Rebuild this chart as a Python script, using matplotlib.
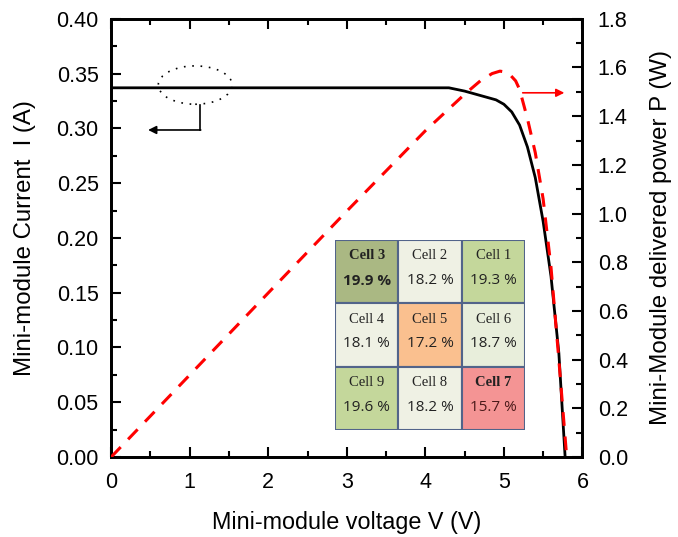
import matplotlib
matplotlib.use("Agg")
from matplotlib import pyplot as plt
from matplotlib.patches import Ellipse, Rectangle
from matplotlib.ticker import MultipleLocator, FormatStrFormatter

# I-V curve of the mini-module
voltage_iv = [0.0, 0.5, 1.0, 1.5, 2.0, 2.5, 3.0, 3.5, 4.0, 4.3, 4.5, 4.7, 4.9, 5.0,
              5.1, 5.2, 5.3, 5.4, 5.5, 5.6, 5.7, 5.78]
current = [0.337, 0.337, 0.337, 0.337, 0.337, 0.337, 0.337, 0.337, 0.337, 0.337, 0.334,
           0.330, 0.326, 0.322, 0.315, 0.303, 0.283, 0.255, 0.215, 0.165, 0.095, 0.0]

# P-V curve
voltage_pv = [0.0, 1.0, 2.0, 3.0, 4.0, 4.5, 4.7, 4.85, 4.95, 5.05, 5.15, 5.2, 5.3, 5.4,
              5.5, 5.6, 5.7, 5.8]
power = [0.0, 0.337, 0.674, 1.01, 1.34, 1.49, 1.545, 1.575, 1.585, 1.58, 1.545, 1.51,
         1.39, 1.25, 1.06, 0.78, 0.40, 0.0]

# efficiency map of the 9 cells (row by row, top to bottom)
cell_names = [["Cell 3", "Cell 2", "Cell 1"],
              ["Cell 4", "Cell 5", "Cell 6"],
              ["Cell 9", "Cell 8", "Cell 7"]]
cell_eff = [[19.9, 18.2, 19.3],
            [18.1, 17.2, 18.7],
            [19.6, 18.2, 15.7]]
cell_colors = [["#aab883", "#eff1e4", "#c4d79b"],
               ["#eff1e4", "#fac08f", "#e8eedb"],
               ["#c4d79b", "#eff1e4", "#f49494"]]
bold_cells = ["Cell 3", "Cell 7"]

plt.rcParams['font.family'] = ['Liberation Sans', 'DejaVu Sans']

fig = plt.figure(figsize=(6.78, 5.37), dpi=100)
ax1 = fig.add_axes([0.164, 0.149, 0.695, 0.816])
ax2 = ax1.twinx()

ax1.plot(voltage_iv, current, color='black', lw=2.0, zorder=3)
ax2.plot(voltage_pv, power, color='red', lw=2.2, dashes=(4.5, 3.5), zorder=3)

ax1.set_xlim(0, 6)
ax1.set_ylim(0, 0.40)
ax2.set_ylim(0, 1.8)

ax1.xaxis.set_major_locator(MultipleLocator(1))
ax1.xaxis.set_minor_locator(MultipleLocator(0.5))
ax1.yaxis.set_major_locator(MultipleLocator(0.05))
ax1.yaxis.set_minor_locator(MultipleLocator(0.025))
ax2.yaxis.set_major_locator(MultipleLocator(0.2))
ax2.yaxis.set_minor_locator(MultipleLocator(0.1))
ax1.yaxis.set_major_formatter(FormatStrFormatter('%.2f'))
ax2.yaxis.set_major_formatter(FormatStrFormatter('%.1f'))

ax1.tick_params(axis='x', which='both', direction='in', top=True, labelsize=15.5, pad=11)
ax1.tick_params(axis='y', which='both', direction='in', labelsize=15.5, pad=9)
ax2.tick_params(axis='y', which='both', direction='in', labelsize=15.5, pad=11)
for a in (ax1, ax2):
    a.tick_params(which='major', length=7, width=1.5)
    a.tick_params(which='minor', length=4, width=1.5)
    for s in a.spines.values():
        s.set_linewidth(2)

ax1.set_xlabel("Mini-module voltage V (V)", fontsize=16.8)
ax1.set_ylabel("Mini-module Current  I (A)", fontsize=17.3)
ax2.set_ylabel("Mini-Module delivered power P (W)", fontsize=17.3)
ax1.xaxis.set_label_coords(0.5, -0.123)
ax1.yaxis.set_label_coords(-0.159, 0.5)
ax2.yaxis.set_label_coords(1.144, 0.5)

# annotation: ellipse + arrow to the left axis
ax1.add_patch(Ellipse((1.07, 0.3395), 0.94, 0.035, fill=False, ec='black',
                      lw=1.2, linestyle=(0, (1, 4)), zorder=4))
ax1.plot([1.13, 1.13], [0.321, 0.2985], color='black', lw=1.2)
ax1.annotate("", xy=(0.47, 0.2985), xytext=(1.14, 0.2985),
             arrowprops=dict(arrowstyle='-|>', color='black', lw=1.2,
                             shrinkA=0, shrinkB=0, mutation_scale=12))
# arrow to the right axis
ax2.annotate("", xy=(5.77, 1.496), xytext=(5.24, 1.496),
             arrowprops=dict(arrowstyle='-|>', color='red', lw=1.2,
                             shrinkA=0, shrinkB=0, mutation_scale=12))

# cell efficiency inset
ins = ax1.inset_axes([2.85, 0.0247, 2.42, 0.1733], transform=ax1.transData, zorder=5)
ins.set_xlim(0, 3)
ins.set_ylim(0, 3)
ins.axis('off')
for r in range(3):
    for c in range(3):
        y0 = 2 - r
        ins.add_patch(Rectangle((c, y0), 1, 1, fc=cell_colors[r][c], ec='#52648a', lw=1.5))
        name = cell_names[r][c]
        bold = 'bold' if name in bold_cells else 'normal'
        ins.text(c + 0.5, y0 + 0.75, name, ha='center', va='center', fontsize=10.5,
                 family='Liberation Serif', weight=bold, color='#222222')
        pct_color = '#4a1a1a' if name == "Cell 7" else '#222222'
        pct_weight = 'bold' if name == "Cell 3" else 'normal'
        ins.text(c + 0.5, y0 + 0.36, f"{cell_eff[r][c]} %", ha='center', va='center',
                 fontsize=11, family='Open Sans', weight=pct_weight, color=pct_color)

plt.savefig("out.png", dpi=100)
